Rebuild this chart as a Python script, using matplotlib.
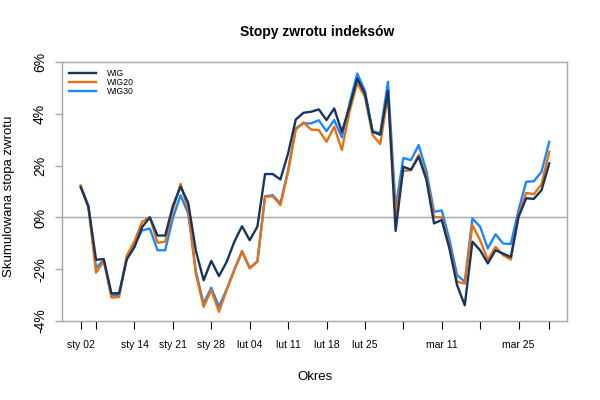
import matplotlib

matplotlib.use("Agg")
import matplotlib.pyplot as plt
import numpy as np

plt.rcParams["font.family"] = ["Liberation Sans", "DejaVu Sans"]

# skumulowane stopy zwrotu w %, kolejne sesje od 2 stycznia
wig = [
    1.17, 0.42, -1.64, -1.61, -2.94, -2.93, -1.62, -1.15, -0.37, 0.00,
    -0.70, -0.70, 0.45, 1.19, 0.56, -1.30, -2.43, -1.68, -2.27, -1.72,
    -0.94, -0.34, -0.88, -0.36, 1.68, 1.68, 1.47, 2.48, 3.79, 4.05,
    4.09, 4.18, 3.77, 4.22, 3.31, 4.28, 5.38, 4.80, 3.31, 3.20,
    4.90, -0.52, 1.96, 1.85, 2.35, 1.47, -0.23, -0.10, -1.20, -2.62,
    -3.40, -0.94, -1.27, -1.78, -1.27, -1.40, -1.53, 0.02, 0.74, 0.72,
    1.06, 2.09,
]
wig20 = [
    1.24, 0.38, -2.14, -1.68, -3.10, -3.08, -1.48, -0.92, -0.17, 0.02,
    -0.98, -0.94, 0.30, 1.30, 0.30, -2.20, -3.46, -2.81, -3.65, -2.81,
    -2.04, -1.33, -1.97, -1.72, 0.80, 0.82, 0.48, 1.77, 3.40, 3.68,
    3.40, 3.38, 2.93, 3.51, 2.61, 4.09, 5.21, 4.67, 3.19, 2.84,
    4.75, 0.10, 1.80, 1.83, 2.42, 1.58, 0.02, 0.00, -1.10, -2.49,
    -2.56, -0.30, -0.88, -1.65, -1.14, -1.46, -1.63, 0.09, 0.95, 0.90,
    1.29, 2.54,
]
wig30 = [
    1.20, 0.45, -1.95, -1.65, -3.02, -3.00, -1.55, -1.05, -0.50, -0.43,
    -1.27, -1.27, -0.02, 0.86, 0.15, -2.10, -3.33, -2.72, -3.46, -2.78,
    -2.02, -1.30, -1.95, -1.70, 0.82, 0.86, 0.54, 1.83, 3.45, 3.64,
    3.64, 3.76, 3.34, 3.77, 3.10, 4.41, 5.57, 4.90, 3.34, 3.25,
    5.25, 0.35, 2.30, 2.22, 2.80, 1.80, 0.22, 0.27, -0.85, -2.23,
    -2.49, -0.04, -0.36, -1.20, -0.65, -1.01, -1.03, 0.28, 1.38, 1.40,
    1.77, 2.93,
]

tick_idx = [0, 2, 7, 12, 17, 22, 27, 32, 37, 42, 47, 52, 57, 61]
tick_labels = ["sty 02", "", "sty 14", "sty 21", "sty 28", "lut 04", "lut 11",
               "lut 18", "lut 25", "", "mar 11", "", "mar 25", ""]
y_ticks = [-4, -2, 0, 2, 4, 6]

series = [("WIG30", wig30, "#1E86FF"), ("WIG20", wig20, "#E8700F"),
          ("WIG", wig, "#17365D")]
legend_order = ["WIG", "WIG20", "WIG30"]

GREY = "#A8A8A8"


def main() -> None:
    fig = plt.figure(figsize=(6, 4), dpi=100)
    ax = fig.add_axes([0.1038, 0.198, 0.8417, 0.646])

    x = np.arange(len(wig))
    handles = {}
    for name, values, color in series:
        (line,) = ax.plot(x, values, color=color, lw=1.7, label=name)
        handles[name] = line

    ax.axhline(0, color=GREY, lw=1, zorder=0)

    ax.set_xlim(-2.4, 63.35)
    ax.set_ylim(-4, 6)

    for spine in ax.spines.values():
        spine.set_color(GREY)
        spine.set_linewidth(1)

    ax.set_xticks(tick_idx)
    ax.set_xticklabels(tick_labels, fontsize=7.5)
    ax.tick_params(axis="x", direction="out", length=6, width=0.8,
                   color="black", pad=8)

    ax.set_yticks(y_ticks)
    ax.set_yticklabels([f"{v}%" for v in y_ticks], fontsize=10,
                       rotation=90, va="center")
    ax.tick_params(axis="y", direction="out", length=5, width=1,
                   color=GREY, pad=6)

    ax.legend([handles[n] for n in legend_order], legend_order,
              loc="upper left", bbox_to_anchor=(0.0, 1.0), frameon=False,
              fontsize=6.2, handlelength=3.2, handletextpad=1.2,
              labelspacing=0.02, borderaxespad=0.35)

    fig.text(0.528, 1 - 32 / 400, "Stopy zwrotu indeksów", ha="center",
             va="center", fontsize=10, fontweight="bold")
    fig.text(0.525, 1 - 377 / 400, "Okres", ha="center", va="center",
             fontsize=9.5)
    fig.text(0.015, 1 - 196 / 400, "Skumulowana stopa zwrotu", ha="center",
             va="center", rotation=90, fontsize=9.5)

    fig.savefig("out.png", dpi=100)


if __name__ == "__main__":
    main()
